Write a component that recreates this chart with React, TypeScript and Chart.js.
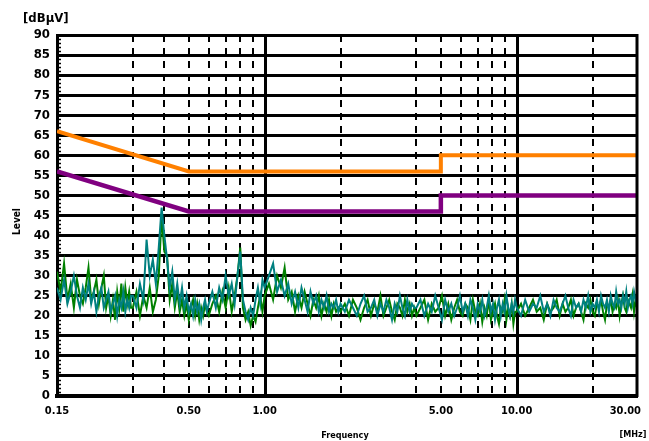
import { useEffect, useRef } from 'react';
import { Chart, registerables } from 'chart.js';

Chart.register(...registerables);

// ---------- data ----------
const frequenciesMHz = [
  0.150, 0.155, 0.160, 0.165, 0.170, 0.175, 0.180, 0.185, 0.190, 0.195,
  0.200, 0.205, 0.210, 0.215, 0.220, 0.225, 0.230, 0.235, 0.240, 0.245,
  0.250, 0.255, 0.260, 0.265, 0.270, 0.275, 0.280, 0.285, 0.290, 0.295,
  0.30, 0.31, 0.32, 0.33, 0.34, 0.35, 0.36, 0.37, 0.38, 0.39,
  0.40, 0.41, 0.42, 0.43, 0.44, 0.45, 0.46, 0.47, 0.48, 0.49,
  0.50, 0.51, 0.52, 0.53, 0.54, 0.55, 0.56, 0.57, 0.58, 0.59,
  0.60, 0.62, 0.64, 0.66, 0.68, 0.70, 0.72, 0.74, 0.76, 0.78,
  0.80, 0.82, 0.84, 0.86, 0.88, 0.90, 0.92, 0.94, 0.96, 0.98,
  1.00, 1.04, 1.08, 1.12, 1.16, 1.20, 1.24, 1.28, 1.32, 1.36,
  1.40, 1.44, 1.48, 1.52, 1.56, 1.60, 1.64, 1.68, 1.72, 1.76,
  1.80, 1.84, 1.88, 1.92, 1.96,
  2.00, 2.08, 2.16, 2.24, 2.32, 2.40, 2.48, 2.56, 2.64, 2.72,
  2.80, 2.88, 2.96, 3.04, 3.12, 3.20, 3.28, 3.36, 3.44, 3.52,
  3.60, 3.68, 3.76, 3.84, 3.92,
  4.00, 4.15, 4.30, 4.45, 4.60, 4.75, 4.90, 5.05, 5.20, 5.35,
  5.50, 5.65, 5.80, 5.95, 6.10, 6.25, 6.40, 6.55, 6.70, 6.85,
  7.00, 7.15, 7.30, 7.45, 7.60, 7.75, 7.90, 8.05, 8.20, 8.35,
  8.50, 8.65, 8.80, 8.95, 9.10, 9.25, 9.40, 9.55, 9.70, 9.85,
  10.0, 10.4, 10.8, 11.2, 11.6, 12.0, 12.4, 12.8, 13.2, 13.6,
  14.0, 14.4, 14.8, 15.2, 15.6, 16.0, 16.4, 16.8, 17.2, 17.6,
  18.0, 18.4, 18.8, 19.2, 19.6, 20.0, 20.4, 20.8, 21.2, 21.6,
  22.0, 22.4, 22.8, 23.2, 23.6, 24.0, 24.4, 24.8, 25.2, 25.6,
  26.0, 26.4, 26.8, 27.2, 27.6, 28.0, 28.4, 28.8, 29.2, 29.6,
  30.0,
];

const traceTeal = [
  27, 24, 29, 23, 26, 30, 25, 22, 27, 24, 28, 23, 26, 21, 25, 27, 22, 24, 26, 21,
  23, 25, 20, 24, 22, 26, 21, 24, 22, 25,
  25, 22, 28, 24, 39, 30, 34, 28, 37, 47, 40, 34, 27, 31, 24, 28, 23, 27, 22, 25,
  21, 23, 20, 24, 21, 23, 19, 22, 24, 21,
  23, 26, 22, 27, 24, 30, 25, 28, 23, 30, 36, 24, 21, 19, 22, 20, 24, 27, 23, 29,
  27, 30, 33, 26, 29, 25, 28, 23, 26, 22, 27, 24, 21, 26, 23, 25, 21, 24, 22, 25,
  21, 23, 22, 24, 21,
  23, 21, 24, 22, 20, 23, 25, 21, 22, 24, 20, 23, 21, 24, 22, 19, 23, 21, 25, 22,
  20, 24, 21, 23, 22,
  22, 24, 20, 23, 21, 25, 22, 19, 24, 21, 23, 20, 22, 25, 21, 23, 20, 24, 22, 19,
  23, 21, 24, 20, 22, 25, 21, 23, 19, 22, 24, 20, 23, 21, 25, 22, 20, 23, 21, 24,
  22, 20, 24, 21, 23, 22, 25, 21, 23, 20, 24, 22, 21, 23, 25, 22, 20, 24, 22, 23,
  21, 24, 22, 25, 21, 23, 22, 24, 21, 25, 23, 22, 24, 21, 25, 23, 22, 26, 23, 24,
  22, 25, 23, 26, 22, 24, 25, 23, 26, 24, 23,
];

const traceGreen = [
  31, 26, 33, 24, 28, 22, 29, 25, 23, 27, 32, 24, 26, 29, 23, 27, 30, 22, 25, 20,
  24, 19, 26, 22, 28, 21, 27, 23, 26, 22,
  22, 26, 20, 25, 22, 27, 21, 24, 30, 45, 36, 35, 24, 28, 22, 26, 21, 24, 20, 23,
  19, 22, 24, 20, 23, 19, 22, 20, 23, 21,
  20, 23, 25, 21, 26, 22, 27, 21, 25, 30, 37, 22, 19, 21, 17.5, 20, 18.5, 22, 25, 21,
  25, 28, 24, 30, 27, 32, 24, 26, 21, 25, 22, 26, 23, 20, 24, 22, 25, 20, 23, 21,
  24, 20, 23, 21, 22,
  21, 23, 20, 24, 22, 19, 22, 24, 20, 23, 21, 25, 20, 22, 24, 21, 19, 23, 22, 20,
  24, 21, 23, 20, 22,
  20, 22, 24, 19, 23, 21, 22, 25, 20, 23, 19, 22, 24, 21, 20, 23, 22, 19, 24, 21,
  20, 23, 18.5, 22, 20, 24, 19, 21, 23, 20, 18, 22, 21, 24, 19, 22, 20, 23, 18, 21,
  21, 23, 20, 22, 24, 21, 22, 19, 23, 21, 22, 24, 20, 23, 21, 22, 24, 20, 22, 23,
  21, 19, 23, 22, 24, 21, 20, 23, 22, 24, 21, 19, 23, 22, 24, 21, 23, 22, 24, 20,
  23, 25, 22, 21, 24, 23, 22, 25, 21, 24, 22,
];

const limitFreqMHz = [0.15, 0.5, 5, 5, 30];
const qpLimitLevel = [66, 56, 56, 60, 60];
const avLimitLevel = [56, 46, 46, 50, 50];

const xLabelValues = [0.15, 0.5, 1, 5, 10, 30];
const dashedGridMHz = [0.3, 0.4, 0.5, 0.6, 0.7, 0.8, 0.9, 2, 4, 5, 6, 7, 8, 9, 20];
const solidGridMHz = [1, 10];

const yMin = 0;
const yMax = 90;
const yStep = 5;

const FONT = "'Liberation Sans Narrow', 'DejaVu Sans Condensed', 'Arial Narrow', sans-serif";

function pts(xs: number[], ys: number[]) {
  const n = Math.min(xs.length, ys.length);
  const out: { x: number; y: number }[] = [];
  for (let i = 0; i < n; i++) out.push({ x: xs[i], y: ys[i] });
  return out;
}

const overlay = {
  id: 'overlay',
  beforeDatasetsDraw(chart: any) {
    const { ctx, chartArea: a, scales } = chart;
    const x = scales.x;
    const y = scales.y;
    ctx.save();
    ctx.strokeStyle = '#000';
    ctx.lineWidth = 2;
    ctx.setLineDash([7, 6]);
    for (const f of dashedGridMHz) {
      const px = Math.round(x.getPixelForValue(f));
      ctx.beginPath();
      ctx.moveTo(px, a.top);
      ctx.lineTo(px, a.bottom);
      ctx.stroke();
    }
    ctx.setLineDash([]);
    ctx.lineWidth = 3;
    for (const f of solidGridMHz) {
      const px = Math.round(x.getPixelForValue(f)) + 0.5;
      ctx.beginPath();
      ctx.moveTo(px, a.top);
      ctx.lineTo(px, a.bottom);
      ctx.stroke();
    }
    ctx.lineWidth = 1.5;
    for (let v = yMin; v <= yMax; v += 1) {
      if (v % yStep === 0) continue;
      const py = Math.round(y.getPixelForValue(v)) + 0.5;
      ctx.beginPath();
      ctx.moveTo(a.left, py);
      ctx.lineTo(a.left + 4, py);
      ctx.stroke();
    }
    ctx.restore();
  },
  afterDraw(chart: any) {
    const { ctx, chartArea: a, width, height, scales } = chart;
    const x = scales.x;
    ctx.save();
    ctx.strokeStyle = '#000';
    ctx.lineWidth = 3;
    ctx.beginPath();
    ctx.moveTo(a.right, a.top - 1);
    ctx.lineTo(a.right, a.bottom + 1);
    ctx.stroke();

    ctx.fillStyle = '#000';
    // x tick labels
    ctx.font = `bold 11px ${FONT}`;
    ctx.textBaseline = 'middle';
    xLabelValues.forEach((v, i) => {
      const px = x.getPixelForValue(v);
      const last = i === xLabelValues.length - 1;
      ctx.textAlign = last ? 'right' : 'center';
      ctx.fillText(v.toFixed(2), last ? px + 4 : px, a.bottom + 15);
    });

    ctx.font = `bold 13px ${FONT}`;
    ctx.textAlign = 'left';
    ctx.fillText('[dBµV]', 23, a.top - 16);

    ctx.font = `bold 9px ${FONT}`;
    ctx.textAlign = 'center';
    ctx.fillText('Frequency', (a.left + a.right) / 2 - 2, height - 5);
    ctx.fillText('[MHz]', width - 16, height - 6);

    ctx.font = `bold 10px ${FONT}`;
    ctx.translate(17, (a.top + a.bottom) / 2 + 6);
    ctx.rotate(-Math.PI / 2);
    ctx.fillText('Level', 0, 0);
    ctx.restore();
  },
};

export default function App() {
  const ref = useRef<HTMLCanvasElement>(null);
  useEffect(() => {
    document.body.style.margin = '0';
    const chart = new Chart(ref.current as HTMLCanvasElement, {
      type: 'line',
      data: {
        datasets: [
          {
            label: 'QP limit',
            data: pts(limitFreqMHz, qpLimitLevel),
            borderColor: '#ff8000',
            borderWidth: 4,
            pointRadius: 0,
          },
          {
            label: 'AV limit',
            data: pts(limitFreqMHz, avLimitLevel),
            borderColor: '#800080',
            borderWidth: 4.5,
            pointRadius: 0,
          },
          {
            label: 'Teal trace',
            data: pts(frequenciesMHz, traceTeal),
            borderColor: '#008080',
            borderWidth: 2,
            pointRadius: 0,
          },
          {
            label: 'Green trace',
            data: pts(frequenciesMHz, traceGreen),
            borderColor: '#008000',
            borderWidth: 2,
            pointRadius: 0,
          },
        ],
      },
      options: {
        responsive: false,
        animation: false,
        devicePixelRatio: 1,
        layout: { padding: { top: 35, right: 12, left: 0, bottom: 0 } },
        plugins: { legend: { display: false }, tooltip: { enabled: false } },
        elements: { line: { tension: 0 } },
        scales: {
          x: {
            type: 'logarithmic',
            min: 0.15,
            max: 30,
            afterFit: (s: any) => {
              s.height = 45;
              s.paddingLeft = 0;
              s.paddingRight = 0;
            },
            ticks: { display: false },
            grid: { display: false, drawTicks: false },
            border: { color: '#000', width: 4 },
          },
          y: {
            min: yMin,
            max: yMax,
            afterFit: (s: any) => {
              s.width = 57;
            },
            ticks: {
              stepSize: yStep,
              color: '#000',
              padding: 7,
              font: { family: FONT, size: 13, weight: 'bold' },
            },
            grid: { color: '#000', lineWidth: 3, drawTicks: false },
            border: { color: '#000', width: 3 },
          },
        },
      } as any,
      plugins: [overlay],
    });
    return () => chart.destroy();
  }, []);
  return (
    <div style={{ position: 'absolute', left: 0, top: 0, width: 649, height: 441, background: '#fff' }}>
      <canvas ref={ref} width={649} height={441} style={{ display: 'block', width: 649, height: 441 }} />
    </div>
  );
}
